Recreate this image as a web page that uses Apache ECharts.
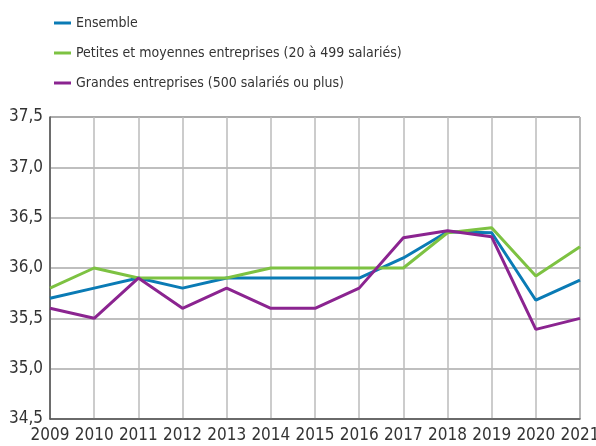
<!DOCTYPE html>
<html>
<head>
<meta charset="utf-8">
<script src="https://cdn.jsdelivr.net/npm/echarts@6/dist/echarts.min.js"></script>
<style>
  html, body { margin: 0; padding: 0; background: #fff; }
  #chart { width: 596px; height: 446px; }
</style>
</head>
<body>
<div id="chart"></div>
<script>
const years = ['2009', '2010', '2011', '2012', '2013', '2014', '2015', '2016', '2017', '2018', '2019', '2020', '2021']
const ensemble = [35.7, 35.8, 35.9, 35.8, 35.9, 35.9, 35.9, 35.9, 36.1, 36.36, 36.35, 35.68, 35.88]
const pme = [35.8, 36.0, 35.9, 35.9, 35.9, 36.0, 36.0, 36.0, 36.0, 36.35, 36.4, 35.92, 36.21]
const grandes = [35.6, 35.5, 35.9, 35.6, 35.8, 35.6, 35.6, 35.8, 36.3, 36.37, 36.31, 35.39, 35.5]
const seriesNames = ['Ensemble', 'Petites et moyennes entreprises (20 à 499 salariés)', 'Grandes entreprises (500 salariés ou plus)']

const font = '"DejaVu Sans Condensed", "Liberation Sans Narrow", sans-serif'
const chart = echarts.init(document.getElementById('chart'))

const line = (name, data, color) => ({
  name,
  type: 'line',
  data,
  symbol: 'none',
  lineStyle: { color, width: 3 },
  itemStyle: { color }
})

chart.setOption({
  animation: false,
  textStyle: { fontFamily: font },
  legend: {
    orient: 'vertical',
    left: 49,
    top: 8,
    icon: 'rect',
    itemWidth: 17,
    itemHeight: 3,
    itemGap: 10,
    textStyle: { fontFamily: font, fontSize: 14, color: '#333', lineHeight: 20 },
    data: seriesNames
  },
  grid: {
    left: 50,
    right: 16,
    top: 117,
    bottom: 27,
    outerBoundsMode: 'none',
    show: true,
    borderColor: '#666',
    borderWidth: 1
  },
  xAxis: {
    type: 'category',
    data: years,
    boundaryGap: false,
    axisTick: { show: false },
    axisLine: { lineStyle: { color: '#555', width: 1.5 } },
    axisLabel: { fontFamily: font, fontSize: 17, color: '#333', margin: 8, interval: 0 },
    splitLine: { show: true, lineStyle: { color: '#bbb', width: 1.5 } }
  },
  yAxis: {
    type: 'value',
    min: 34.5,
    max: 37.5,
    interval: 0.5,
    axisLine: { show: true, lineStyle: { color: '#555', width: 1.5 } },
    axisTick: { show: false },
    axisLabel: {
      fontFamily: font, fontSize: 17, color: '#333', margin: 7,
      formatter: v => v.toFixed(1).replace('.', ',')
    },
    splitLine: { lineStyle: { color: '#aaa', width: 1.5 } }
  },
  series: [
    line(seriesNames[0], ensemble, '#0a7bb5'),
    line(seriesNames[1], pme, '#7dc242'),
    line(seriesNames[2], grandes, '#8b2490')
  ]
})
</script>
</body>
</html>
